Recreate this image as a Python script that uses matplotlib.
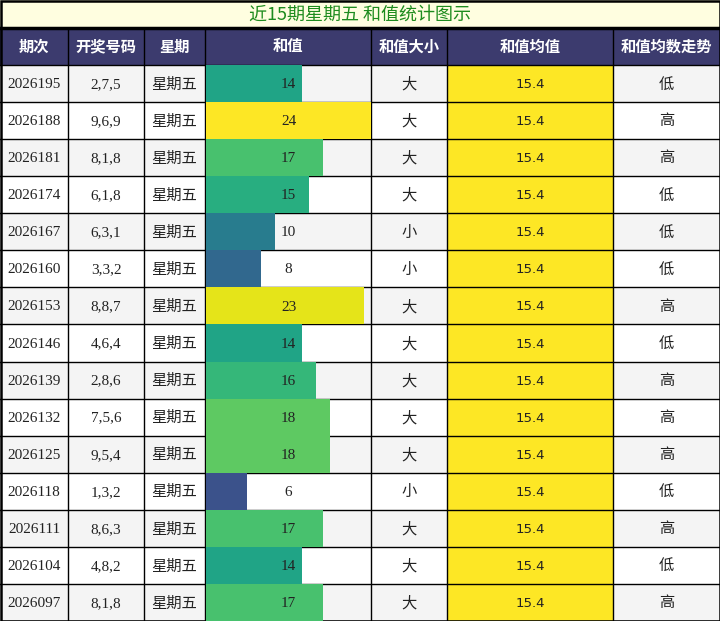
import matplotlib
matplotlib.use("Agg")
import matplotlib.pyplot as plt
from matplotlib.patches import Rectangle
from matplotlib import cm

title = "近15期星期五 和值统计图示"
headers = ["期次", "开奖号码", "星期", "和值", "和值大小", "和值均值", "和值均数走势"]
periods = ["2026195", "2026188", "2026181", "2026174", "2026167", "2026160", "2026153",
           "2026146", "2026139", "2026132", "2026125", "2026118", "2026111", "2026104", "2026097"]
numbers = ["2,7,5", "9,6,9", "8,1,8", "6,1,8", "6,3,1", "3,3,2", "8,8,7", "4,6,4",
           "2,8,6", "7,5,6", "9,5,4", "1,3,2", "8,6,3", "4,8,2", "8,1,8"]
weekday = ["星期五"] * 15
sums = [14, 24, 17, 15, 10, 8, 23, 14, 16, 18, 18, 6, 17, 14, 17]
sizes = ["大", "大", "大", "大", "小", "小", "大", "大", "大", "大", "大", "小", "大", "大", "大"]
mean_val = 15.4
trend = ["低", "高", "高", "低", "低", "低", "高", "低", "高", "高", "高", "低", "高", "低", "高"]
sum_max = 24

W, H = 720, 621
col_x = [0, 68, 144, 205, 371, 447, 613, 720]
title_h = 28
head_h = 37
n = len(periods)
row_h = (H - title_h - head_h) / n

fig = plt.figure(figsize=(W / 100, H / 100), dpi=100)
ax = fig.add_axes([0, 0, 1, 1])
ax.set_xlim(0, W)
ax.set_ylim(H, 0)
ax.axis("off")

body_font = ["Liberation Serif", "Noto Sans CJK SC"]
cjk = ["Noto Sans CJK SC", "DejaVu Sans"]
header_col = "#3c3b6e"
gray = "#f4f4f4"

# title
ax.add_patch(Rectangle((0, 0), W, title_h, facecolor="#fffee0", edgecolor="none"))
ax.text(W / 2, title_h / 2 + 1, title, ha="center", va="center", fontsize=13,
        color="#1e8c1e", family=cjk)

# header
ax.add_patch(Rectangle((0, title_h), W, head_h, facecolor=header_col, edgecolor="none"))
for i, h in enumerate(headers):
    cx = (col_x[i] + col_x[i + 1]) / 2
    ax.text(cx, title_h + head_h / 2, h, ha="center", va="center", fontsize=11,
            color="white", fontweight="bold", family=cjk)

y0 = title_h + head_h
for r in range(n):
    top = y0 + r * row_h
    bg = gray if r % 2 == 0 else "white"
    for c in range(7):
        fc = "#fde725" if c == 5 else bg
        ax.add_patch(Rectangle((col_x[c], top), col_x[c + 1] - col_x[c], row_h,
                               facecolor=fc, edgecolor="none", zorder=0))
    cy = top + row_h / 2 + 1
    vals = [periods[r], numbers[r], weekday[r], None, sizes[r], None, trend[r]]
    for c, v in enumerate(vals):
        if v is None:
            continue
        cx = (col_x[c] + col_x[c + 1]) / 2
        ax.text(cx, cy, v, ha="center", va="center", fontsize=11, color="#222222",
                family=body_font, zorder=5)
    ax.text((col_x[5] + col_x[6]) / 2, cy, f"{mean_val:.1f}", ha="center", va="center",
            fontsize=9.5, color="#222222", family="DejaVu Sans", zorder=5)

# bars in the sum column via their own axes
bx0 = col_x[3] + 1
bax = fig.add_axes([bx0 / W, 0, (col_x[4] - bx0) / W, (H - y0) / H])
bax.set_xlim(0, sum_max)
bax.set_ylim(n - 0.5, -0.5)
bax.axis("off")
bax.patch.set_alpha(0)
colors = [cm.viridis(v / sum_max) for v in sums]
bax.barh(range(n), sums, height=1.0, color=colors, edgecolor="none")
for r, v in enumerate(sums):
    bax.text(sum_max / 2, r + 0.03, str(v), ha="center", va="center", fontsize=11,
             color="#222222", family=body_font)

# grid lines
lw = 1.0
for x in col_x[1:-1]:
    ax.plot([x, x], [title_h, H], color="black", lw=lw, zorder=10)
for r in range(n + 1):
    y = y0 + r * row_h
    ax.plot([0, W], [y, y], color="black", lw=lw, zorder=10)
ax.plot([0, W], [title_h, title_h], color="black", lw=2.5, zorder=10)
ax.add_patch(Rectangle((0.5, 0.5), W - 1, H - 1, facecolor="none", edgecolor="black",
                       lw=1.8, zorder=11))

fig.savefig("out.png", dpi=100)
